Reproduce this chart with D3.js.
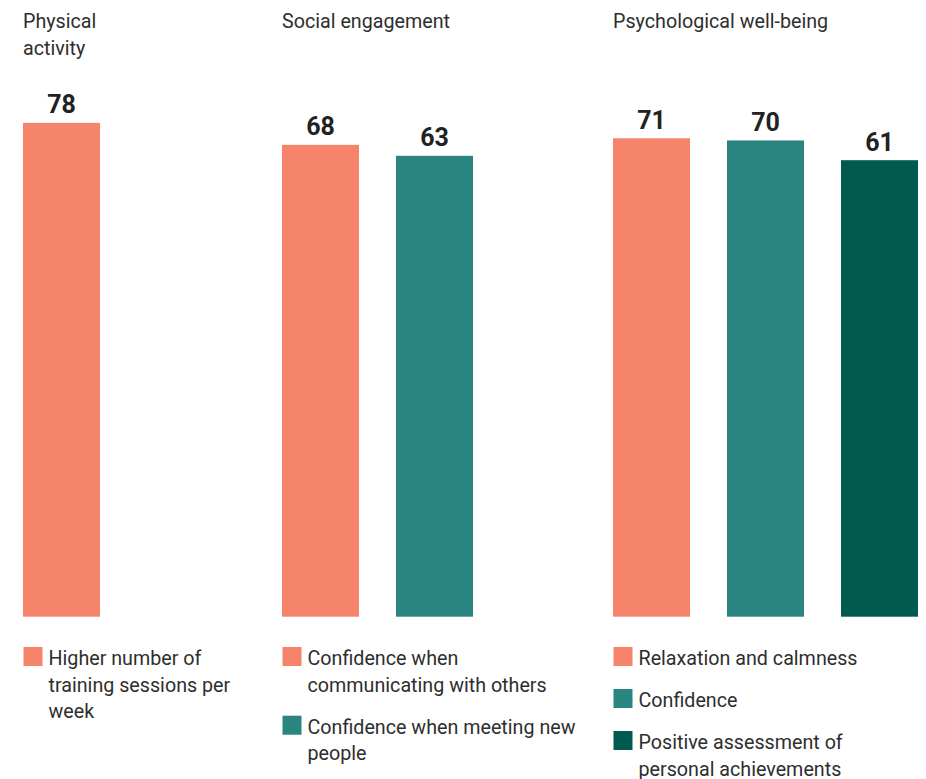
<!DOCTYPE html>
<html><head><meta charset="utf-8">
<script src="https://cdn.jsdelivr.net/npm/d3@7"></script>
<style>
html,body{margin:0;padding:0;background:#fff;}
svg{display:block;font-family:Roboto,"Noto Sans",sans-serif;}
</style></head>
<body><svg id="c" width="926" height="779"></svg>
<script>
// Data
const panelTitles = [["Physical","activity"], ["Social engagement"], ["Psychological well-being"]];
const panelValues = [[78], [68, 63], [71, 70, 61]];
const panelLabels = [
  [["Higher number of","training sessions per","week"]],
  [["Confidence when","communicating with others"], ["Confidence when meeting new","people"]],
  [["Relaxation and calmness"], ["Confidence"], ["Positive assessment of","personal achievements"]]
];
const seriesColors = ["#F5846A", "#2A847F", "#015A50"];

const panelX = [23, 282, 613];
const baseline = 616.7;

const svg = d3.select("#c");
const y = d3.scaleLinear().domain([-147, 100]).range([baseline, 74.6]);
const x = d3.scaleBand().domain([0,1,2]).range([0, 305]).paddingInner(0.3246).paddingOuter(0);
const color = d3.scaleOrdinal().domain([0,1,2]).range(seriesColors);
const fs = 19.7;

panelValues.forEach((vals, p) => {
  const g = svg.append("g").attr("transform", `translate(${panelX[p]},0)`);
  // title
  const t = g.append("text").attr("x", 0).attr("y", 28).attr("fill", "#2e2e2e").attr("font-size", fs);
  panelTitles[p].forEach((line, i) => {
    t.append("tspan").attr("x", 0).attr("dy", i === 0 ? 0 : 27).text(line);
  });
  // bars
  g.selectAll("rect.bar").data(vals).join("rect")
    .attr("class", "bar")
    .attr("x", (d, i) => x(i))
    .attr("width", x.bandwidth())
    .attr("y", d => y(d))
    .attr("height", d => baseline - y(d))
    .attr("fill", (d, i) => color(i));
  // value labels
  g.selectAll("text.val").data(vals).join("text")
    .attr("class", "val")
    .attr("x", (d, i) => x(i) + x.bandwidth() / 2)
    .attr("y", d => y(d) - 9.5)
    .attr("text-anchor", "middle")
    .attr("font-size", 25).attr("font-weight", 700)
    .attr("fill", "#222")
    .text(d => d);
  // legend
  let ly = 647;
  panelLabels[p].forEach((lines, i) => {
    g.append("rect").attr("x", 0.5).attr("y", ly).attr("width", 19).attr("height", 19).attr("fill", color(i));
    const lt = g.append("text").attr("x", 25.5).attr("y", ly + 18).attr("fill", "#2e2e2e").attr("font-size", fs);
    lines.forEach((line, j) => {
      lt.append("tspan").attr("x", 25.5).attr("dy", j === 0 ? 0 : 26.7).text(line);
    });
    ly += 42 + (lines.length - 1) * 26.7;
  });
});
</script></body></html>
